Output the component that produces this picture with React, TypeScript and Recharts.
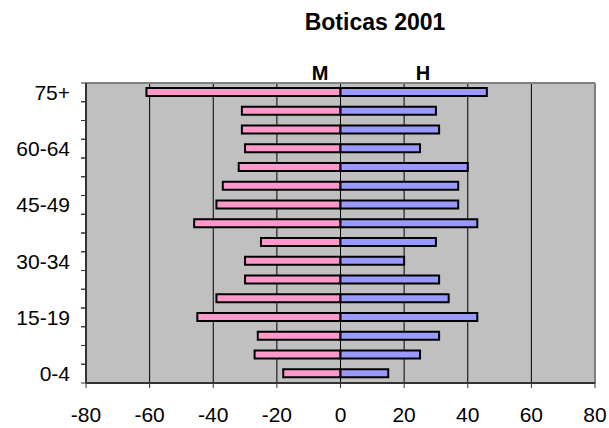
import React from 'react';
import { BarChart, Bar, XAxis, YAxis, CartesianGrid } from 'recharts';

const ageGroups = [
  '0-4', '5-9', '10-14', '15-19', '20-24', '25-29', '30-34', '35-39',
  '40-44', '45-49', '50-54', '55-59', '60-64', '65-69', '70-74', '75+',
];
// women shown on the left as negative values
const mulheres = [-18, -27, -26, -45, -39, -30, -30, -25, -46, -39, -37, -32, -30, -31, -31, -61];
const homens = [15, 25, 31, 43, 34, 31, 20, 30, 43, 37, 37, 40, 25, 31, 30, 46];
const xTicks = [-80, -60, -40, -20, 0, 20, 40, 60, 80];

const data = ageGroups.map((age, i) => ({ age, M: mulheres[i], H: homens[i] }));

const FONT = '"Liberation Sans", Arial, sans-serif';

const AgeTick = (props: any) => {
  const { x, y, payload, index } = props;
  const half = payload && payload.offset ? payload.offset : 9.375;
  return (
    <g>
      <line x1={x + 11} x2={x + 16} y1={y - half} y2={y - half} stroke="#333" />
      <line x1={x + 11} x2={x + 16} y1={y + half} y2={y + half} stroke="#333" />
      {index % 3 === 0 && (
        <text x={x} y={y} dy="0.355em" textAnchor="end" fontSize={21} fontFamily={FONT} fill="#000">
          {payload.value}
        </text>
      )}
    </g>
  );
};

const App: React.FC = () => {
  return (
    <div style={{ position: 'absolute', left: 0, top: 0, width: 609, height: 428, background: '#fff' }}>
      <BarChart
        width={609}
        height={428}
        data={data}
        layout="vertical"
        stackOffset="sign"
        margin={{ top: 83, right: 14, bottom: 0, left: 0 }}
      >
        <CartesianGrid fill="#C0C0C0" horizontal={false} stroke="#000" />
        <CartesianGrid
          vertical={true}
          horizontal={true}
          stroke="#808080"
          strokeWidth={2}
          horizontalCoordinatesGenerator={({ offset }: any) => [offset.top]}
          verticalCoordinatesGenerator={({ offset }: any) => [offset.left + offset.width]}
        />
        <XAxis
          type="number"
          domain={[-80, 80]}
          ticks={xTicks}
          height={45}
          tickSize={5}
          tickMargin={19}
          axisLine={{ stroke: '#333', strokeWidth: 2 }}
          tickLine={{ stroke: '#333' }}
          tick={{ fontSize: 21, fontFamily: FONT, fill: '#000' }}
        />
        <YAxis
          type="category"
          dataKey="age"
          reversed
          width={86}
          interval={0}
          tickSize={5}
          tickMargin={11}
          tickLine={false}
          axisLine={{ stroke: '#333', strokeWidth: 2 }}
          tick={<AgeTick />}
        />
        <Bar dataKey="M" stackId="a" fill="#FF99CC" stroke="#000" strokeWidth={2} barSize={8} isAnimationActive={false} />
        <Bar dataKey="H" stackId="a" fill="#9999FF" stroke="#000" strokeWidth={2} barSize={8} isAnimationActive={false} />
      </BarChart>
      <svg
        width={609}
        height={428}
        style={{ position: 'absolute', left: 0, top: 0, pointerEvents: 'none' }}
      >
        <text x={375} y={30} textAnchor="middle" fontSize={23} fontWeight="bold" fontFamily={FONT}>
          Boticas 2001
        </text>
        <text x={320} y={80} textAnchor="middle" fontSize={20} fontWeight="bold" fontFamily={FONT}>
          M
        </text>
        <text x={423} y={80} textAnchor="middle" fontSize={20} fontWeight="bold" fontFamily={FONT}>
          H
        </text>
      </svg>
    </div>
  );
};

export default App;
